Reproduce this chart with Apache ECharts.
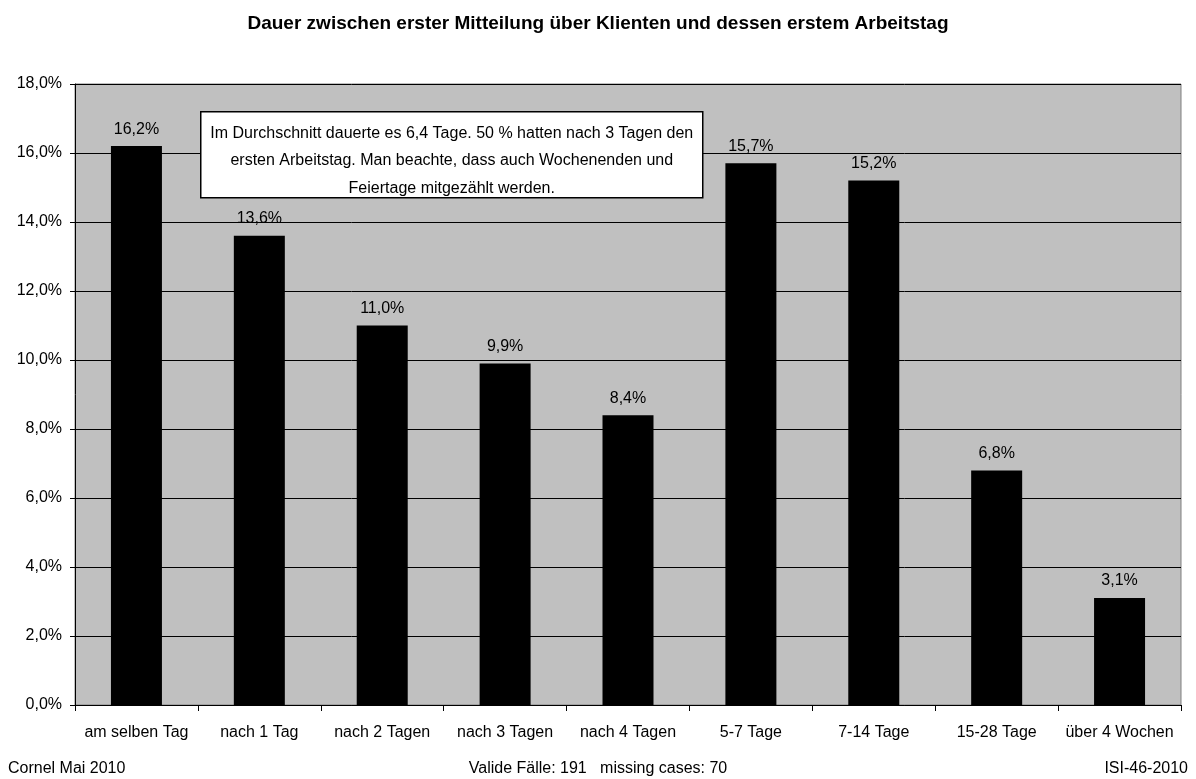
<!DOCTYPE html>
<html><head><meta charset="utf-8">
<script src="https://cdn.jsdelivr.net/npm/echarts@6/dist/echarts.min.js"></script>
<style>html,body{margin:0;padding:0;background:#fff}#c{width:1196px;height:779px}</style>
</head><body><div id="c"></div>
<script>
const categories = ['am selben Tag','nach 1 Tag','nach 2 Tagen','nach 3 Tagen','nach 4 Tagen','5-7 Tage','7-14 Tage','15-28 Tage','über 4 Wochen'];
const values = [16.2, 13.6, 11.0, 9.9, 8.4, 15.7, 15.2, 6.8, 3.1];
const yMin = 0, yMax = 18, yStep = 2;
const title = 'Dauer zwischen erster Mitteilung über Klienten und dessen erstem Arbeitstag';
const note = 'Im Durchschnitt dauerte es 6,4 Tage. 50 % hatten nach 3 Tagen den\nersten Arbeitstag. Man beachte, dass auch Wochenenden und\nFeiertage mitgezählt werden.';
const footLeft = 'Cornel Mai 2010';
const footCenter = 'Valide Fälle: 191   missing cases: 70';
const footRight = 'ISI-46-2010';

const fmt = v => v.toFixed(1).replace('.', ',') + '%';
const F = 'Liberation Sans, Arial, sans-serif';
const chart = echarts.init(document.getElementById('c'));
chart.setOption({
  animation: false,
  backgroundColor: '#fff',
  title: { text: title, left: 'center', top: 9, textStyle: { fontFamily: F, fontSize: 19, fontWeight: 'bold', color: '#000' } },
  grid: { left: 75, right: 15, top: 84, bottom: 74, show: true, backgroundColor: '#c0c0c0', borderColor: '#808080', borderWidth: 1 },
  xAxis: {
    type: 'category', data: categories,
    axisLine: { lineStyle: { color: '#000', width: 1 } },
    axisTick: { show: true, alignWithLabel: false, length: 6, lineStyle: { color: '#000' } },
    axisLabel: { fontFamily: F, fontSize: 16, color: '#000', margin: 20, interval: 0 }
  },
  yAxis: {
    type: 'value', min: yMin, max: yMax, interval: yStep,
    axisLine: { show: true, lineStyle: { color: '#000' } },
    axisTick: { show: true, length: 5, lineStyle: { color: '#000' } },
    axisLabel: { fontFamily: F, fontSize: 16, color: '#000', margin: 13, formatter: v => fmt(v) },
    splitLine: { show: true, lineStyle: { color: '#000', width: 1 } }
  },
  series: [{
    type: 'bar', data: values, barWidth: 51,
    itemStyle: { color: '#000' },
    label: { show: true, position: 'top', distance: 9, fontFamily: F, fontSize: 16, color: '#000', formatter: p => fmt(p.value) }
  }],
  graphic: [
    { type: 'group', left: 200, top: 111, z: 10, children: [
      { type: 'rect', shape: { x: 0, y: 0, width: 502, height: 86 }, style: { fill: '#fff', stroke: '#000', lineWidth: 1.5 }, z: 10 },
      { type: 'text', x: 251, y: 8, z: 11, style: { text: note, fontFamily: F, fontSize: 16, fill: '#000', align: 'center', verticalAlign: 'top', lineHeight: 27.5 } }
    ]},
    { type: 'text', left: 8, top: 761, style: { text: footLeft, fontFamily: F, fontSize: 16, fill: '#000' } },
    { type: 'text', left: 'center', top: 761, style: { text: footCenter, fontFamily: F, fontSize: 16, fill: '#000' } },
    { type: 'text', right: 8, top: 761, style: { text: footRight, fontFamily: F, fontSize: 16, fill: '#000' } }
  ]
});
</script></body></html>
